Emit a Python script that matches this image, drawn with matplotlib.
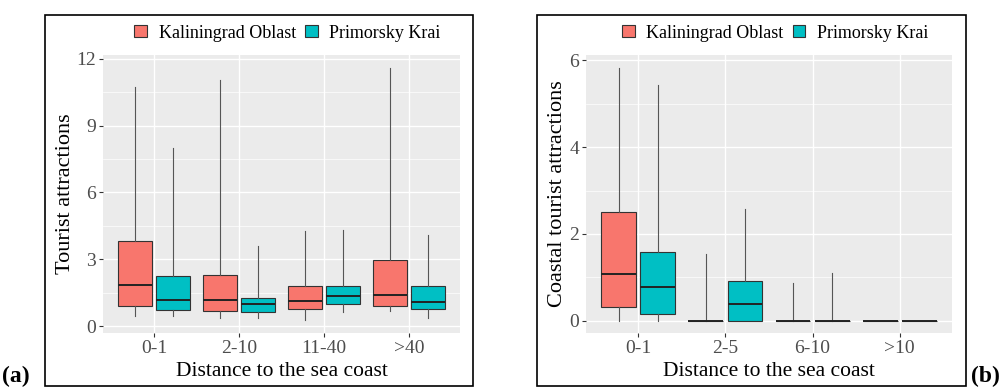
# boxplots: tourist attractions vs distance to the sea coast
import matplotlib.pyplot as plt
import numpy as np
from matplotlib.patches import Patch, Rectangle
from matplotlib.ticker import MultipleLocator

plt.rcParams['font.family'] = ['Liberation Serif', 'DejaVu Serif']

RED = '#F8766D'
CYAN = '#00BFC4'
series_names = ['Kaliningrad Oblast', 'Primorsky Krai']

# panel (a): all tourist attractions
cats_a = ['0-1', '2-10', '11-40', '>40']
kal_a_lo = [0.48, 0.37, 0.27, 0.67]
kal_a_q1 = [0.92, 0.67, 0.76, 0.89]
kal_a_med = [1.85, 1.16, 1.13, 1.39]
kal_a_q3 = [3.84, 2.30, 1.82, 2.95]
kal_a_hi = [10.73, 11.06, 4.28, 11.59]
pri_a_lo = [0.48, 0.37, 0.63, 0.37]
pri_a_q1 = [0.73, 0.63, 1.00, 0.77]
pri_a_med = [1.19, 1.00, 1.34, 1.10]
pri_a_q3 = [2.27, 1.27, 1.82, 1.82]
pri_a_hi = [7.97, 3.62, 4.32, 4.08]

# panel (b): coastal tourist attractions
cats_b = ['0-1', '2-5', '6-10', '>10']
kal_b_lo = [0.0, 0.0, 0.0, 0.0]
kal_b_q1 = [0.32, 0.0, 0.0, 0.0]
kal_b_med = [1.07, 0.0, 0.0, 0.0]
kal_b_q3 = [2.50, 0.0, 0.0, 0.0]
kal_b_hi = [5.83, 1.53, 0.88, 0.0]
pri_b_lo = [0.0, 0.0, 0.0, 0.0]
pri_b_q1 = [0.16, 0.0, 0.0, 0.0]
pri_b_med = [0.78, 0.38, 0.0, 0.0]
pri_b_q3 = [1.58, 0.92, 0.0, 0.0]
pri_b_hi = [5.44, 2.57, 1.09, 0.0]


def make_stats(lo, q1, med, q3, hi):
    return [dict(whislo=a, q1=b, med=c, q3=d, whishi=e, fliers=[])
            for a, b, c, d, e in zip(lo, q1, med, q3, hi)]


def draw_boxes(ax, stats, positions, color):
    ax.bxp(stats, positions=positions, widths=0.4, patch_artist=True,
           showcaps=False, showfliers=False, manage_ticks=False,
           boxprops=dict(facecolor=color, edgecolor='#333333', linewidth=0.8),
           whiskerprops=dict(color='#555555', linewidth=0.8),
           medianprops=dict(color='#222222', linewidth=1.4))


def style_panel(ax, cats, ylim, major, minor, ylabel, ylabel_x):
    ax.set_facecolor('#EBEBEB')
    for s in ax.spines.values():
        s.set_visible(False)
    ax.set_xlim(0.4, 4.6)
    ax.set_ylim(*ylim)
    ax.set_xticks(np.arange(1, len(cats) + 1))
    ax.set_xticklabels(cats)
    ax.yaxis.set_major_locator(MultipleLocator(major))
    ax.yaxis.set_minor_locator(MultipleLocator(minor))
    ax.grid(which='major', color='white', linewidth=1.0)
    ax.grid(which='minor', axis='y', color='white', linewidth=0.5)
    ax.set_axisbelow(True)
    ax.tick_params(which='major', length=3, width=0.8, color='#333333',
                   labelcolor='#4D4D4D', labelsize=14, pad=2)
    ax.tick_params(which='minor', length=0)
    ax.set_ylabel(ylabel, fontsize=16, va='center')
    ax.yaxis.set_label_coords(ylabel_x, 0.5)
    ax.set_xlabel('Distance to the sea coast', fontsize=15.5, va='center')
    ax.xaxis.set_label_coords(0.5, -0.14)
    handles = [Patch(facecolor=RED, edgecolor='#333333', linewidth=0.8),
               Patch(facecolor=CYAN, edgecolor='#333333', linewidth=0.8)]
    ax.legend(handles, series_names, loc='center', bbox_to_anchor=(0.517, 1.079),
              ncol=2, frameon=False, fontsize=13, handlelength=0.7,
              handleheight=0.6, handletextpad=0.65, columnspacing=0.5,
              borderaxespad=0)


fig = plt.figure(figsize=(10.02, 3.88), dpi=100)

ax1 = fig.add_axes([103 / 1002, 55 / 388, 357 / 1002, 278 / 388])
x = np.arange(1, len(cats_a) + 1)
draw_boxes(ax1, make_stats(kal_a_lo, kal_a_q1, kal_a_med, kal_a_q3, kal_a_hi), x - 0.225, RED)
draw_boxes(ax1, make_stats(pri_a_lo, pri_a_q1, pri_a_med, pri_a_q3, pri_a_hi), x + 0.225, CYAN)
style_panel(ax1, cats_a, (-0.30, 12.16), 3, 1.5, 'Tourist attractions', -0.106)

ax2 = fig.add_axes([586 / 1002, 55 / 388, 366 / 1002, 278 / 388])
x = np.arange(1, len(cats_b) + 1)
draw_boxes(ax2, make_stats(kal_b_lo, kal_b_q1, kal_b_med, kal_b_q3, kal_b_hi), x - 0.225, RED)
draw_boxes(ax2, make_stats(pri_b_lo, pri_b_q1, pri_b_med, pri_b_q3, pri_b_hi), x + 0.225, CYAN)
style_panel(ax2, cats_b, (-0.28, 6.12), 2, 1, 'Coastal tourist attractions', -0.077)

# frames round each sub-figure
for left, width in [(45, 428), (537, 429)]:
    fig.patches.append(Rectangle((left / 1002, 2 / 388), width / 1002, 371 / 388,
                                 transform=fig.transFigure, fill=False,
                                 edgecolor='black', linewidth=1.2))

fig.text(0.002, 12 / 388, '(a)', fontsize=17, fontweight='bold', va='center', ha='left')
fig.text(0.998, 12 / 388, '(b)', fontsize=17, fontweight='bold', va='center', ha='right')

fig.savefig('out.png', dpi=100)
